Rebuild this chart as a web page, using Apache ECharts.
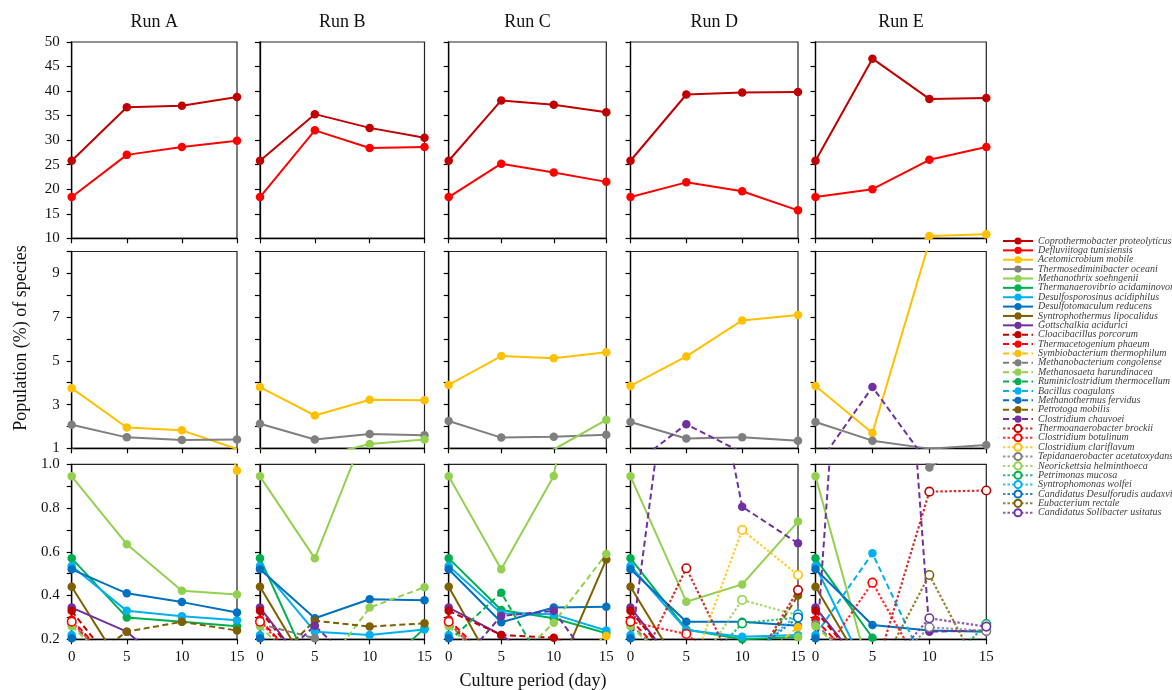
<!DOCTYPE html>
<html>
<head>
<meta charset="utf-8">
<script src="https://cdn.jsdelivr.net/npm/echarts@6/dist/echarts.min.js"></script>
<style>
  html, body { margin: 0; padding: 0; background: #fff; }
  #chart { width: 1172px; height: 690px; }
</style>
</head>
<body>
<div id="chart"></div>
<script>
// Sampling days of the culture
const days = [0, 5, 10, 15];
const runNames = ['Run A', 'Run B', 'Run C', 'Run D', 'Run E'];

// Species, in legend order (10 solid, 10 dashed, 10 dotted/hollow)
const species = [
  'Coprothermobacter proteolyticus', 'Defluviitoga tunisiensis', 'Acetomicrobium mobile',
  'Thermosediminibacter oceani', 'Methanothrix soehngenii', 'Thermanaerovibrio acidaminovorans',
  'Desulfosporosinus acidiphilus', 'Desulfotomaculum reducens', 'Syntrophothermus lipocalidus',
  'Gottschalkia acidurici',
  'Cloacibacillus porcorum', 'Thermacetogenium phaeum', 'Symbiobacterium thermophilum',
  'Methanobacterium congolense', 'Methanosaeta harundinacea', 'Ruminiclostridium thermocellum',
  'Bacillus coagulans', 'Methanothermus fervidus', 'Petrotoga mobilis', 'Clostridium chauvoei',
  'Thermoanaerobacter brockii', 'Clostridium botulinum', 'Clostridium clariflavum',
  'Tepidanaerobacter acetatoxydans', 'Neorickettsia helminthoeca', 'Petrimonas mucosa',
  'Syntrophomonas wolfei', 'Candidatus Desulforudis audaxviator', 'Eubacterium rectale',
  'Candidatus Solibacter usitatus'
];

// Population (%) per species (rows, legend order) at days 0, 5, 10, 15
const runA = [
  [25.8, 36.7, 37.0, 38.8], [18.4, 27.0, 28.6, 29.9], [3.75, 1.95, 1.82, 0.97], [2.08, 1.5, 1.38, 1.4],
  [0.945, 0.635, 0.422, 0.405], [0.57, 0.30, 0.28, 0.26], [0.535, 0.33, 0.305, 0.287], [0.52, 0.41, 0.37, 0.323],
  [0.44, 0.04, 0.03, 0.03], [0.345, 0.235, 0.02, 0.02],
  [0.33, 0.01, 0.02, 0.02], [0.29, 0.02, 0.02, 0.02], [0.15, 0.03, 0.03, 0.03], [0.27, 0.03, 0.03, 0.03],
  [0.26, 0.02, 0.02, 0.02], [0.18, 0.03, 0.03, 0.03], [0.22, 0.03, 0.03, 0.03], [0.205, 0.03, 0.03, 0.03],
  [0.05, 0.235, 0.28, 0.24], [0.12, 0.02, 0.02, 0.02],
  [0.1, 0.02, 0.02, 0.02], [0.28, 0.02, 0.02, 0.02], [0.05, 0.02, 0.02, 0.02], [0.1, 0.02, 0.02, 0.02],
  [0.05, 0.02, 0.02, 0.02], [0.1, 0.02, 0.02, 0.02], [0.1, 0.02, 0.02, 0.02], [0.1, 0.02, 0.02, 0.02],
  [0.05, 0.02, 0.02, 0.02], [0.1, 0.02, 0.02, 0.02]
];
const runB = [
  [25.8, 35.3, 32.5, 30.5], [18.4, 32.0, 28.4, 28.6], [3.8, 2.5, 3.22, 3.2], [2.12, 1.4, 1.65, 1.6],
  [0.945, 0.57, 1.2, 1.4], [0.57, 0.02, 0.02, 0.25], [0.535, 0.235, 0.22, 0.245], [0.52, 0.296, 0.383, 0.378],
  [0.44, 0.02, 0.02, 0.02], [0.345, 0.02, 0.02, 0.02],
  [0.33, 0.02, 0.02, 0.02], [0.29, 0.02, 0.02, 0.02], [0.15, 0.02, 0.02, 0.02], [0.27, 0.205, 0.02, 0.02],
  [0.26, 0.01, 0.345, 0.438], [0.18, 0.02, 0.02, 0.02], [0.22, 0.02, 0.02, 0.02], [0.205, 0.02, 0.02, 0.02],
  [0.04, 0.285, 0.258, 0.273], [0.03, 0.262, 0.02, 0.02],
  [0.1, 0.02, 0.02, 0.02], [0.28, 0.02, 0.02, 0.02], [0.05, 0.02, 0.02, 0.02], [0.1, 0.02, 0.02, 0.02],
  [0.05, 0.02, 0.02, 0.02], [0.1, 0.02, 0.02, 0.02], [0.1, 0.02, 0.02, 0.02], [0.1, 0.02, 0.02, 0.02],
  [0.05, 0.02, 0.02, 0.02], [0.1, 0.02, 0.02, 0.02]
];
const runC = [
  [25.8, 38.1, 37.2, 35.7], [18.4, 25.2, 23.4, 21.5], [3.9, 5.22, 5.12, 5.39], [2.25, 1.49, 1.53, 1.62],
  [0.945, 0.52, 0.947, 2.3], [0.57, 0.334, 0.296, 0.228], [0.535, 0.319, 0.314, 0.24], [0.52, 0.278, 0.345, 0.349],
  [0.44, 0.01, 0.01, 0.565], [0.345, 0.22, 0.05, 0.05],
  [0.33, 0.22, 0.207, 0.1], [0.29, 0.05, 0.05, 0.05], [0.15, 0.05, 0.05, 0.215], [0.27, 0.05, 0.05, 0.05],
  [0.26, 0.04, 0.276, 0.59], [0.19, 0.413, 0.0, 0.0], [0.22, 0.05, 0.05, 0.05], [0.205, 0.05, 0.05, 0.05],
  [0.05, 0.02, 0.02, 0.02], [0.03, 0.307, 0.33, 0.0],
  [0.1, 0.02, 0.02, 0.02], [0.28, 0.02, 0.02, 0.02], [0.05, 0.02, 0.02, 0.02], [0.1, 0.02, 0.02, 0.02],
  [0.05, 0.02, 0.02, 0.02], [0.1, 0.02, 0.02, 0.02], [0.1, 0.02, 0.02, 0.02], [0.1, 0.02, 0.02, 0.02],
  [0.05, 0.02, 0.02, 0.02], [0.1, 0.02, 0.02, 0.02]
];
const runD = [
  [25.8, 39.3, 39.7, 39.8], [18.4, 21.4, 19.6, 15.7], [3.85, 5.2, 6.85, 7.1], [2.2, 1.45, 1.5, 1.35],
  [0.945, 0.372, 0.451, 0.738], [0.57, 0.245, 0.2, 0.21], [0.535, 0.243, 0.212, 0.22], [0.52, 0.28, 0.28, 0.262],
  [0.44, 0.02, 0.02, 0.02], [0.345, 0.02, 0.02, 0.02],
  [0.33, 0.02, 0.02, 0.02], [0.29, 0.02, 0.02, 0.02], [0.15, 0.05, 0.05, 0.255], [0.27, 0.02, 0.02, 0.02],
  [0.26, 0.02, 0.02, 0.21], [0.18, 0.02, 0.02, 0.02], [0.22, 0.02, 0.02, 0.02], [0.205, 0.02, 0.02, 0.02],
  [0.05, 0.0, 0.0, 0.40], [0.15, 2.1, 0.806, 0.639],
  [0.0, 0.525, 0.0, 0.425], [0.28, 0.224, 0.02, 0.02], [0.05, 0.0, 0.70, 0.494], [0.1, 0.02, 0.02, 0.02],
  [0.05, 0.0, 0.38, 0.31], [0.1, 0.0, 0.273, 0.30], [0.1, 0.0, 0.1, 0.314], [0.1, 0.05, 0.1, 0.30],
  [0.05, 0.02, 0.02, 0.02], [0.1, 0.02, 0.02, 0.02]
];
const runE = [
  [25.8, 46.6, 38.4, 38.6], [18.4, 20.0, 26.0, 28.6], [3.85, 1.7, 10.45, 10.8], [2.2, 1.35, 0.985, 1.15],
  [0.945, 0.0, 0.0, 0.0], [0.57, 0.207, 0.0, 0.0], [0.535, 0.0, 0.0, 0.0], [0.52, 0.265, 0.24, 0.235],
  [0.44, 0.0, 0.0, 0.0], [0.345, 0.02, 0.02, 0.02],
  [0.33, 0.02, 0.02, 0.02], [0.29, 0.02, 0.02, 0.02], [0.15, 0.02, 0.02, 0.02], [0.27, 0.02, 0.02, 0.02],
  [0.26, 0.02, 0.02, 0.02], [0.18, 0.02, 0.02, 0.02], [0.22, 0.593, 0.04, 0.02], [0.205, 0.02, 0.02, 0.02],
  [0.05, 0.02, 0.02, 0.02], [0.1, 3.8, 0.235, 0.24],
  [0.0, 0.01, 0.875, 0.88], [0.08, 0.459, 0.0, 0.0], [0.05, 0.02, 0.02, 0.02], [0.1, 0.0, 0.255, 0.238],
  [0.05, 0.02, 0.02, 0.02], [0.1, 0.0, 0.0, 0.27], [0.1, 0.02, 0.02, 0.02], [0.1, 0.02, 0.02, 0.02],
  [0.05, 0.0, 0.494, 0.0], [0.1, 0.0, 0.296, 0.258]
];
const runs = [runA, runB, runC, runD, runE];

// Ten hues, reused by the solid, dashed and dotted groups
const palette = ['#C00000', '#FF0000', '#FFC000', '#7F7F7F', '#92D050',
                 '#00B050', '#00B0F0', '#0070C0', '#7F6000', '#7030A0'];

const FONT = 'Liberation Serif';

// Plot frame of each run (left, right) and the three stacked value bands
const runFrames = [[71.7, 237], [260, 424.5], [448.7, 606.3], [630.5, 798], [815.5, 986.3]];
const bands = [
  { min: 10, max: 50, interval: 5, top: 42, height: 196.3,
    fmt: v => String(Math.round(v)) },
  { min: 1, max: 10, interval: 1, top: 251.5, height: 196.8,
    fmt: v => (Math.round(v) % 2 === 1 ? String(Math.round(v)) : '') },
  { min: 0.2, max: 1.0, interval: 0.1, top: 464.3, height: 175,
    fmt: v => { const k = Math.round(v * 10); return k % 2 === 0 ? (k / 10).toFixed(1) : ''; } }
];

const grids = [], xAxes = [], yAxes = [], series = [];

runFrames.forEach((frame, r) => {
  bands.forEach((band, b) => {
    const idx = grids.length;
    grids.push({
      left: frame[0], width: frame[1] - frame[0], top: band.top, height: band.height,
      show: true, borderColor: '#222', borderWidth: 1.2, backgroundColor: 'transparent'
    });
    xAxes.push({
      type: 'value', gridIndex: idx, min: 0, max: 15, interval: 5,
      axisLine: { show: true, onZero: false, lineStyle: { color: '#000', width: 1.3 } },
      axisTick: { show: true, length: 5, lineStyle: { color: '#000', width: 1.2 } },
      axisLabel: { show: b === 2, margin: 10, fontFamily: FONT, fontSize: 15, color: '#111' },
      splitLine: { show: false }
    });
    yAxes.push({
      type: 'value', gridIndex: idx, min: band.min, max: band.max, interval: band.interval,
      axisLine: { show: true, onZero: false, lineStyle: { color: '#000', width: 1.3 } },
      axisTick: { show: true, length: 5, lineStyle: { color: '#000', width: 1.2 } },
      axisLabel: { show: r === 0, margin: 12, fontFamily: FONT, fontSize: 15, color: '#111',
                   formatter: band.fmt },
      splitLine: { show: false }
    });
    species.forEach((name, s) => {
      const color = palette[s % 10];
      const group = Math.floor(s / 10);
      const lineStyle = group === 0 ? { color, width: 2, type: 'solid' }
                      : group === 1 ? { color, width: 2, type: [6, 3.5] }
                      : { color, width: 2.2, type: [2.5, 2], opacity: 0.8 };
      const itemStyle = group === 2
        ? { color: '#fff', borderColor: color, borderWidth: 1.6, opacity: 1 }
        : { color, borderWidth: 0 };
      series.push({
        type: 'line', name, xAxisIndex: idx, yAxisIndex: idx,
        data: days.map((d, i) => [d, runs[r][s][i]]),
        symbol: 'circle', symbolSize: 8.5, showSymbol: true,
        clip: true, lineStyle, itemStyle,
        emphasis: { disabled: true }, silent: true, z: 2
      });
    });
  });
});

const graphics = runNames.map((t, r) => ({
  type: 'text', x: (runFrames[r][0] + runFrames[r][1]) / 2, y: 22,
  style: { text: t, fontFamily: FONT, fontSize: 18, fill: '#111', align: 'center', verticalAlign: 'middle' }
}));
graphics.push({
  type: 'text', x: 21, y: 338, rotation: Math.PI / 2,
  style: { text: 'Population (%) of species', fontFamily: FONT, fontSize: 18, fill: '#111',
           align: 'center', verticalAlign: 'middle' }
});
graphics.push({
  type: 'text', x: 533, y: 681,
  style: { text: 'Culture period (day)', fontFamily: FONT, fontSize: 18, fill: '#111',
           align: 'center', verticalAlign: 'middle' }
});

const chart = echarts.init(document.getElementById('chart'), null, { renderer: 'canvas' });
chart.setOption({
  animation: false,
  backgroundColor: '#fff',
  grid: grids,
  xAxis: xAxes,
  yAxis: yAxes,
  series,
  graphic: graphics,
  legend: {
    orient: 'vertical', left: 1002, top: 236, padding: 0,
    itemWidth: 30, itemHeight: 9, itemGap: -0.63,
    data: species,
    selectedMode: false,
    textStyle: { fontFamily: FONT, fontStyle: 'italic', fontSize: 10, color: '#404040', lineHeight: 9 }
  }
});
</script>
</body>
</html>
